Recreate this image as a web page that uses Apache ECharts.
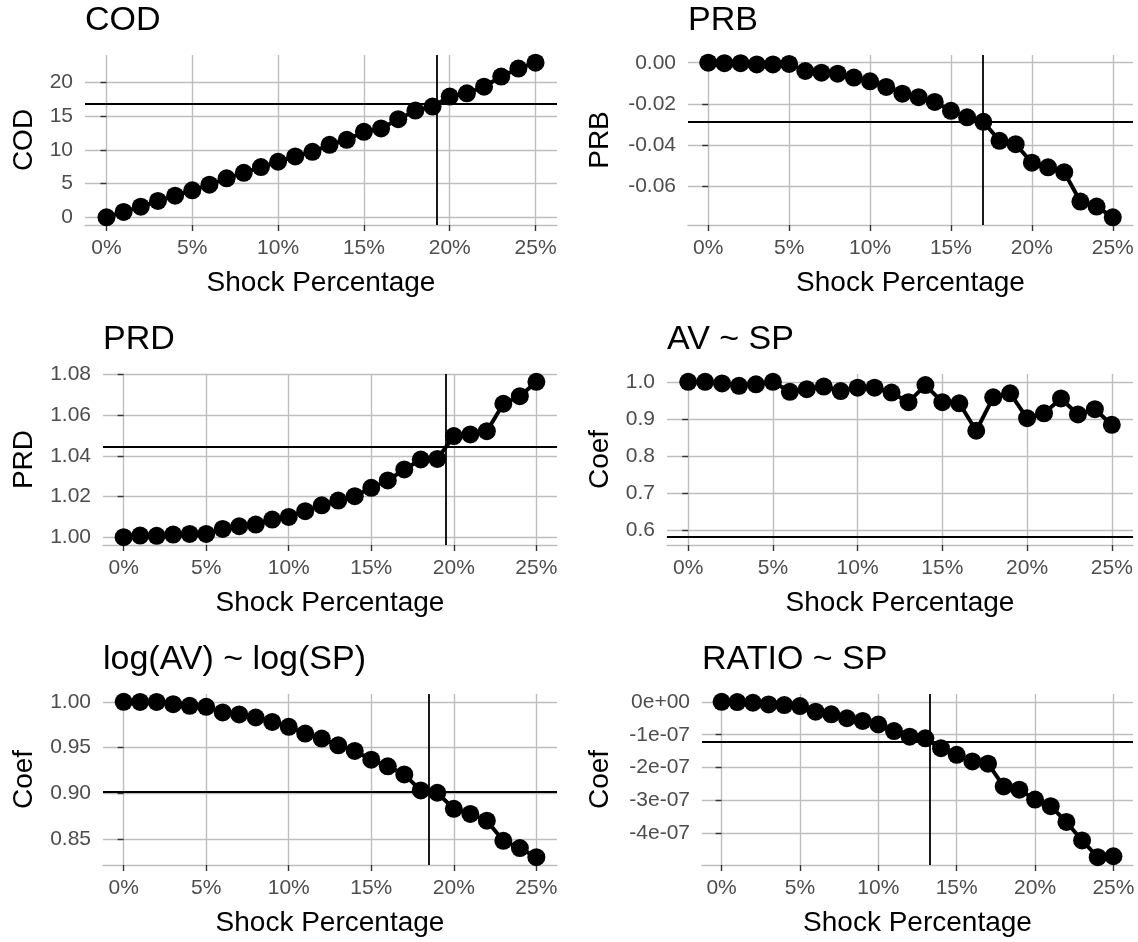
<!DOCTYPE html>
<html>
<head>
<meta charset="utf-8">
<title>Shock Percentage</title>
<script src="https://cdn.jsdelivr.net/npm/echarts@6/dist/echarts.min.js"></script>
<style>
    html, body { margin: 0; padding: 0; background: #fff; }
    #main { width: 1138px; height: 942px; }
</style>
</head>
<body>
<div id="main"></div>
<script>
(function () {

    // x: shock percentage (%)
    var shockPct = [0, 1, 2, 3, 4, 5, 6, 7, 8, 9, 10, 11, 12, 13, 14, 15, 16, 17, 18, 19, 20, 21, 22, 23, 24, 25];
    var xTicks = [0, 5, 10, 15, 20, 25];
    var xTickLabels = ['0%', '5%', '10%', '15%', '20%', '25%'];

    // panel titles / y axis names
    var titles = ['COD', 'PRB', 'PRD', 'AV ~ SP', 'log(AV) ~ log(SP)', 'RATIO ~ SP'];
    var yNames = ['COD', 'PRB', 'PRD', 'Coef', 'Coef', 'Coef'];

    // series values
    var codVals = [0, 0.79, 1.58, 2.42, 3.2, 4.0, 4.84, 5.78, 6.6, 7.46, 8.25, 9.04, 9.73, 10.77, 11.5,
        12.7, 13.2, 14.57, 15.85, 16.44, 17.93, 18.42, 19.4, 20.9, 22.1, 22.96];
    var prbVals = [0, -0.0002, -0.0002, -0.0008, -0.0008, -0.0006, -0.004, -0.0048, -0.0053, -0.0072,
        -0.009, -0.0117, -0.015, -0.0167, -0.019, -0.0233, -0.0264, -0.0286, -0.0378, -0.0394,
        -0.0484, -0.0506, -0.053, -0.0672, -0.0696, -0.0748];
    var prdVals = [1.000, 1.0008, 1.0007, 1.0013, 1.0016, 1.0016, 1.0041, 1.0054, 1.0062, 1.0087,
        1.0100, 1.0128, 1.0157, 1.0180, 1.0202, 1.0243, 1.0279, 1.0333, 1.0382, 1.0385,
        1.0497, 1.0505, 1.0521, 1.0656, 1.0693, 1.0764];
    var avVals = [1.0, 1.0, 0.9955, 0.989, 0.993, 1.0, 0.973, 0.980, 0.987, 0.975, 0.984, 0.984, 0.971,
        0.945, 0.991, 0.945, 0.942, 0.868, 0.958, 0.969, 0.902, 0.915, 0.955, 0.912, 0.926, 0.884];
    var logVals = [1.0, 0.9998, 0.9998, 0.9974, 0.9956, 0.9945, 0.9883, 0.9861, 0.9828, 0.978, 0.9726,
        0.9652, 0.9598, 0.9524, 0.9462, 0.9367, 0.9294, 0.9206, 0.903, 0.9005, 0.8829, 0.8774,
        0.870, 0.848, 0.840, 0.830];
    var ratioVals = [0, -0.01e-7, -0.03e-7, -0.08e-7, -0.1e-7, -0.13e-7, -0.30e-7, -0.38e-7, -0.50e-7,
        -0.58e-7, -0.69e-7, -0.89e-7, -1.06e-7, -1.11e-7, -1.41e-7, -1.61e-7, -1.81e-7, -1.88e-7,
        -2.57e-7, -2.67e-7, -2.97e-7, -3.17e-7, -3.65e-7, -4.21e-7, -4.72e-7, -4.69e-7];
    var allVals = [codVals, prbVals, prdVals, avVals, logVals, ratioVals];

    // reference lines (vline on x, hline on y); AV ~ SP has no vline
    var refX = [19.24, 16.95, 19.5, null, 18.5, 13.3];
    var refY = [16.8, -0.0286, 1.0444, 0.581, 0.902, -1.21e-7];

    // y tick values and labels
    var yTicks = [
        [0, 5, 10, 15, 20],
        [-0.06, -0.04, -0.02, 0],
        [1.00, 1.02, 1.04, 1.06, 1.08],
        [0.6, 0.7, 0.8, 0.9, 1.0],
        [0.85, 0.90, 0.95, 1.00],
        [-4e-7, -3e-7, -2e-7, -1e-7, 0]
    ];
    var yTickLabels = [
        ['0', '5', '10', '15', '20'],
        ['-0.06', '-0.04', '-0.02', '0.00'],
        ['1.00', '1.02', '1.04', '1.06', '1.08'],
        ['0.6', '0.7', '0.8', '0.9', '1.0'],
        ['0.85', '0.90', '0.95', '1.00'],
        ['-4e-07', '-3e-07', '-2e-07', '-1e-07', '0e+00']
    ];

    // panel boxes [left, top, width, height] and y name gaps
    var boxes = [
        [85, 55, 472, 170],
        [688, 55, 445, 170],
        [103, 374, 454, 171],
        [667, 374, 466, 171],
        [103, 694, 454, 171],
        [702, 694, 431, 171]
    ];
    var yNameGaps = [47, 74, 65, 53, 65, 88];

    var FONT = '"Liberation Sans", Arial, sans-serif';
    var GRID_COLOR = '#bebebe';
    var TICK_COLOR = '#333333';
    var LABEL_COLOR = '#4d4d4d';

    // ggplot-like 5% expansion
    function expandRange(vals, extra) {
        var all = vals.slice();
        if (extra != null) all.push(extra);
        var lo = Math.min.apply(null, all), hi = Math.max.apply(null, all);
        var pad = (hi - lo) * 0.05;
        return [lo - pad, hi + pad];
    }

    function labelFor(ticks, labels) {
        var span = Math.abs(ticks[ticks.length - 1] - ticks[0]);
        return function (v) {
            for (var i = 0; i < ticks.length; i++) {
                if (Math.abs(ticks[i] - v) < span * 1e-6) return labels[i];
            }
            return '';
        };
    }

    var xr = expandRange(shockPct, null);

    var option = {
        animation: false,
        backgroundColor: '#ffffff',
        textStyle: { fontFamily: FONT },
        title: [],
        grid: [],
        xAxis: [],
        yAxis: [],
        series: []
    };

    for (var i = 0; i < 6; i++) {
        var b = boxes[i];
        var yr = expandRange(allVals[i], refY[i]);

        option.title.push({
            text: titles[i],
            left: b[0],
            top: b[1] - 51,
            padding: 0,
            textStyle: { fontFamily: FONT, fontSize: 34, fontWeight: 'normal', color: '#000' }
        });

        option.grid.push({ left: b[0], top: b[1], width: b[2], height: b[3], containLabel: false });

        option.xAxis.push({
            type: 'value',
            gridIndex: i,
            min: xr[0],
            max: xr[1],
            name: 'Shock Percentage',
            nameLocation: 'middle',
            nameGap: 44,
            nameTextStyle: { fontFamily: FONT, fontSize: 28, color: '#000' },
            axisLine: { show: true, onZero: false, lineStyle: { color: GRID_COLOR, width: 1.4 } },
            axisTick: { show: true, length: 6, customValues: xTicks, lineStyle: { color: TICK_COLOR, width: 1.4 } },
            axisLabel: {
                customValues: xTicks,
                margin: 13,
                fontFamily: FONT, fontSize: 21, color: LABEL_COLOR,
                formatter: labelFor(xTicks, xTickLabels)
            },
            splitLine: { show: true, lineStyle: { color: GRID_COLOR, width: 1.4 } },
            minorSplitLine: { show: false }
        });

        option.yAxis.push({
            type: 'value',
            gridIndex: i,
            min: yr[0],
            max: yr[1],
            name: yNames[i],
            nameLocation: 'middle',
            nameGap: yNameGaps[i],
            nameRotate: 90,
            nameTextStyle: { fontFamily: FONT, fontSize: 28, color: '#000' },
            axisLine: { show: false },
            axisTick: { show: true, length: 6, customValues: yTicks[i], lineStyle: { color: TICK_COLOR, width: 1.4 } },
            axisLabel: {
                customValues: yTicks[i],
                margin: 12,
                fontFamily: FONT, fontSize: 21, color: LABEL_COLOR,
                formatter: labelFor(yTicks[i], yTickLabels[i])
            },
            splitLine: { show: true, lineStyle: { color: GRID_COLOR, width: 1.4 } }
        });

        var pts = [];
        for (var k = 0; k < shockPct.length; k++) {
            pts.push([shockPct[k], allVals[i][k]]);
        }

        var marks = [{ yAxis: refY[i] }];
        if (refX[i] != null) marks.push({ xAxis: refX[i] });

        option.series.push({
            type: 'line',
            xAxisIndex: i,
            yAxisIndex: i,
            data: pts,
            symbol: 'circle',
            symbolSize: 18,
            showSymbol: true,
            lineStyle: { color: '#000', width: 4 },
            itemStyle: { color: '#000' },
            silent: true,
            markLine: {
                silent: true,
                precision: 12,
                symbol: ['none', 'none'],
                label: { show: false },
                lineStyle: { color: '#000', width: 1.8, type: 'solid' },
                emphasis: { disabled: true },
                data: marks
            }
        });
    }

    var chart = echarts.init(document.getElementById('main'), null, { renderer: 'canvas' });
    chart.setOption(option);
})();
</script>
</body>
</html>
